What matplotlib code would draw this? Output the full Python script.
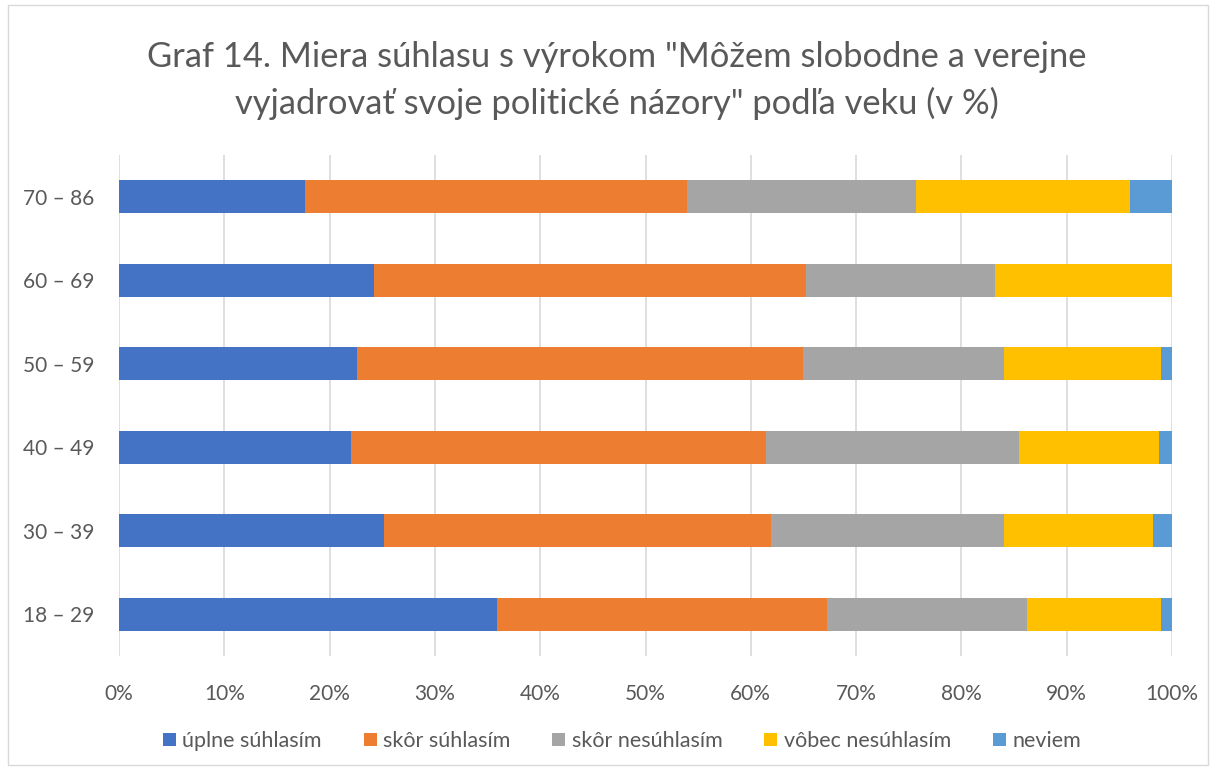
import matplotlib
matplotlib.use("Agg")
import matplotlib.pyplot as plt
import numpy as np
from matplotlib.patches import Rectangle

plt.rcParams['font.family'] = ['Lato', 'DejaVu Sans']

categories = ["18 – 29", "30 – 39", "40 – 49", "50 – 59", "60 – 69", "70 – 86"]
series_names = ["úplne súhlasím", "skôr súhlasím", "skôr nesúhlasím", "vôbec nesúhlasím", "neviem"]
uplne = [35.9, 25.2, 22.0, 22.6, 24.2, 17.7]
skor_suhl = [31.3, 36.7, 39.4, 42.4, 41.0, 36.2]
skor_nesuhl = [19.0, 22.1, 24.1, 19.0, 18.0, 21.8]
vobec = [12.8, 14.2, 13.3, 15.0, 16.8, 20.3]
neviem = [1.0, 1.8, 1.2, 1.0, 0.0, 4.0]
colors = ["#4472C4", "#ED7D31", "#A5A5A5", "#FFC000", "#5B9BD5"]
xticks = [0, 10, 20, 30, 40, 50, 60, 70, 80, 90, 100]

W, H = 1214, 771
fig = plt.figure(figsize=(W/100, H/100), dpi=100)
ax = fig.add_axes([119/W, 1-656/H, (1172-119)/W, (656-155)/H])

y = np.arange(len(categories))
left = np.zeros(len(categories))
for name, vals, c in zip(series_names, [uplne, skor_suhl, skor_nesuhl, vobec, neviem], colors):
    ax.barh(y, vals, left=left, height=0.4, color=c, label=name, zorder=3)
    left += np.array(vals)

ax.set_xlim(0, 100)
ax.set_ylim(-0.5, len(categories)-0.5)
ax.set_xticks(xticks)
ax.set_xticklabels([f"{t}%" for t in xticks])
ax.set_yticks(y)
ax.set_yticklabels(categories)
ax.xaxis.grid(True, color="#D9D9D9", linewidth=1.2, zorder=0)
ax.set_axisbelow(True)
for s in ax.spines.values():
    s.set_visible(False)
ax.tick_params(axis='both', length=0, labelsize=15, labelcolor="#595959")
ax.tick_params(axis='x', pad=20)
ax.tick_params(axis='y', pad=18)

fig.text(617/W, 1-57/H, "Graf 14. Miera súhlasu s výrokom \"Môžem slobodne a verejne",
         ha='center', va='center', fontsize=24.8, color="#595959")
fig.text(617/W, 1-103/H, "vyjadrovať svoje politické názory\" podľa veku (v %)",
         ha='center', va='center', fontsize=24.8, color="#595959")

leg = fig.legend(loc='center', bbox_to_anchor=(622/W, 1-741/H), ncol=5, frameon=False,
                 fontsize=15.5, handlelength=0.6, handleheight=0.6, handletextpad=0.3,
                 columnspacing=1.95, labelcolor="#595959")

fig.patches.append(Rectangle((8/W, 6/H), (1208-8)/W, (766-6)/H, transform=fig.transFigure,
                             fill=False, edgecolor="#D9D9D9", linewidth=1))

fig.savefig("out.png", dpi=100, facecolor="white")
